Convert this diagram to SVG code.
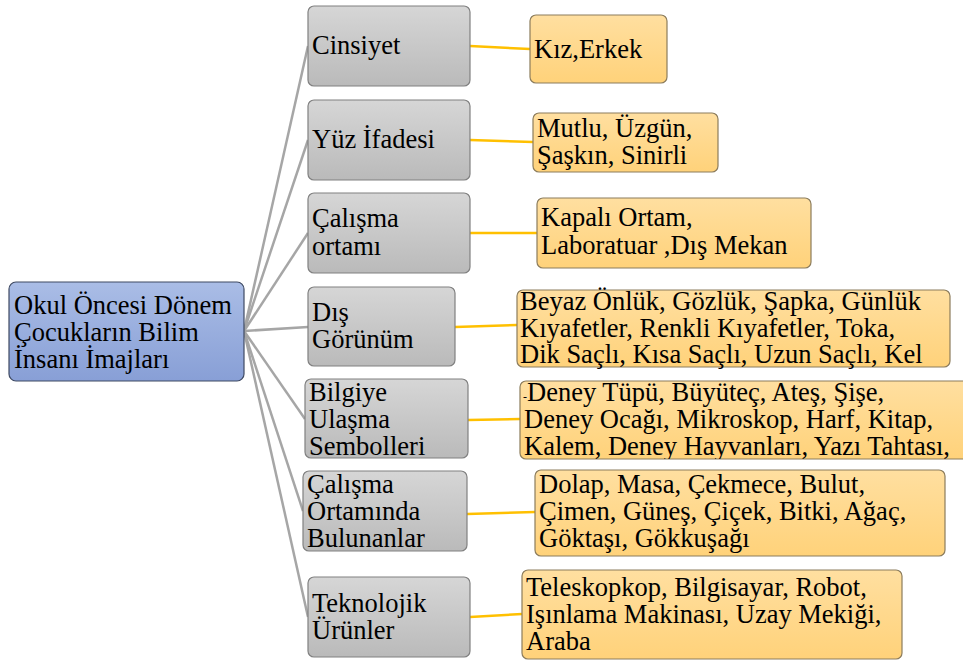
<svg xmlns="http://www.w3.org/2000/svg" width="963" height="661" viewBox="0 0 963 661">
<defs>
<linearGradient id="gGray" x1="0" y1="0" x2="0" y2="1"><stop offset="0" stop-color="#d6d6d6"/><stop offset="1" stop-color="#bababa"/></linearGradient>
<linearGradient id="gOr" x1="0" y1="0" x2="0" y2="1"><stop offset="0" stop-color="#ffdfa0"/><stop offset="1" stop-color="#ffd27a"/></linearGradient>
<linearGradient id="gBlue" x1="0" y1="0" x2="0" y2="1"><stop offset="0" stop-color="#aabde6"/><stop offset="1" stop-color="#889fd6"/></linearGradient>
<clipPath id="c5"><rect x="520" y="381" width="450" height="78"/></clipPath>
<style>
.g{fill:url(#gGray);stroke:#808080;stroke-width:1.2}
.o{fill:url(#gOr);stroke:#8c7c5c;stroke-width:1.2}
.b{fill:url(#gBlue);stroke:#3f4a63;stroke-width:1.2}
.cg{stroke:#a6a6a6;stroke-width:2.5;fill:none}
.co{stroke:#ffc000;stroke-width:2.5;fill:none}
</style>
</defs>
<g id="connectors">
<line class="cg" x1="244" y1="331" x2="308" y2="46"/>
<line class="cg" x1="244" y1="331" x2="308" y2="140"/>
<line class="cg" x1="244" y1="331" x2="308" y2="233"/>
<line class="cg" x1="244" y1="331" x2="308" y2="327"/>
<line class="cg" x1="244" y1="331" x2="305" y2="419"/>
<line class="cg" x1="244" y1="331" x2="303" y2="511"/>
<line class="cg" x1="244" y1="331" x2="308" y2="617"/>
<line class="co" x1="470" y1="46" x2="530" y2="49"/>
<line class="co" x1="470" y1="140" x2="533" y2="142"/>
<line class="co" x1="470" y1="233" x2="537" y2="233"/>
<line class="co" x1="455" y1="327" x2="517" y2="325"/>
<line class="co" x1="468" y1="420" x2="520" y2="419"/>
<line class="co" x1="467" y1="514" x2="535" y2="512"/>
<line class="co" x1="470" y1="617" x2="522" y2="614"/>
</g>
<g font-family="Liberation Serif, Times New Roman, serif" font-size="26.5" fill="#000">
<g id="root">
<rect class="b" x="9" y="282" width="235" height="99" rx="7"/>
<text x="14" y="314">Okul Öncesi Dönem</text>
<text x="14" y="341">Çocukların Bilim</text>
<text x="14" y="368">İnsanı İmajları</text>
</g>
<g id="n1">
<rect class="g" x="308" y="6" width="162" height="80" rx="6"/>
<text x="312" y="54">Cinsiyet</text>
</g>
<g id="n2">
<rect class="g" x="308" y="100" width="162" height="80" rx="6"/>
<text x="312" y="148">Yüz İfadesi</text>
</g>
<g id="n3">
<rect class="g" x="308" y="193" width="162" height="80" rx="6"/>
<text x="312" y="227">Çalışma</text>
<text x="312" y="255">ortamı</text>
</g>
<g id="n4">
<rect class="g" x="308" y="287" width="147" height="79" rx="6"/>
<text x="312" y="321">Dış</text>
<text x="312" y="348">Görünüm</text>
</g>
<g id="n5">
<rect class="g" x="305" y="379" width="163" height="79" rx="6"/>
<text x="309" y="401">Bilgiye</text>
<text x="309" y="428">Ulaşma</text>
<text x="309" y="455">Sembolleri</text>
</g>
<g id="n6">
<rect class="g" x="303" y="471" width="164" height="80" rx="6"/>
<text x="307" y="493">Çalışma</text>
<text x="307" y="520">Ortamında</text>
<text x="307" y="547">Bulunanlar</text>
</g>
<g id="n7">
<rect class="g" x="308" y="577" width="162" height="80" rx="6"/>
<text x="312" y="612">Teknolojik</text>
<text x="312" y="639">Ürünler</text>
</g>
<g id="o1">
<rect class="o" x="530" y="15" width="137" height="68" rx="6"/>
<text x="534" y="58">Kız,Erkek</text>
</g>
<g id="o2">
<rect class="o" x="533" y="113" width="185" height="59" rx="6"/>
<text x="537" y="137">Mutlu, Üzgün,</text>
<text x="537" y="164">Şaşkın, Sinirli</text>
</g>
<g id="o3">
<rect class="o" x="537" y="198" width="274" height="70" rx="6"/>
<text x="541" y="226">Kapalı Ortam,</text>
<text x="541" y="254">Laboratuar ,Dış Mekan</text>
</g>
<g id="o4">
<rect class="o" x="517" y="290" width="433" height="77" rx="6"/>
<text x="520" y="310">Beyaz Önlük, Gözlük, Şapka, Günlük</text>
<text x="520" y="337">Kıyafetler, Renkli Kıyafetler, Toka,</text>
<text x="520" y="363">Dik Saçlı, Kısa Saçlı, Uzun Saçlı, Kel</text>
</g>
<g id="o5">
<rect class="o" x="520" y="381" width="450" height="78" rx="6"/>
<g clip-path="url(#c5)">
<text x="523" y="401"><tspan font-size="12">-</tspan>Deney Tüpü, Büyüteç, Ateş, Şişe,</text>
<text x="524" y="428">Deney Ocağı, Mikroskop, Harf, Kitap,</text>
<text x="524" y="455">Kalem, Deney Hayvanları, Yazı Tahtası,</text>
</g>
</g>
<g id="o6">
<rect class="o" x="535" y="470" width="410" height="86" rx="6"/>
<text x="539" y="493">Dolap, Masa, Çekmece, Bulut,</text>
<text x="539" y="520">Çimen, Güneş, Çiçek, Bitki, Ağaç,</text>
<text x="539" y="547">Göktaşı, Gökkuşağı</text>
</g>
<g id="o7">
<rect class="o" x="522" y="570" width="380" height="89" rx="6"/>
<text x="526" y="596">Teleskopkop, Bilgisayar, Robot,</text>
<text x="526" y="623">Işınlama Makinası, Uzay Mekiği,</text>
<text x="526" y="650">Araba</text>
</g>
</g>
</svg>
